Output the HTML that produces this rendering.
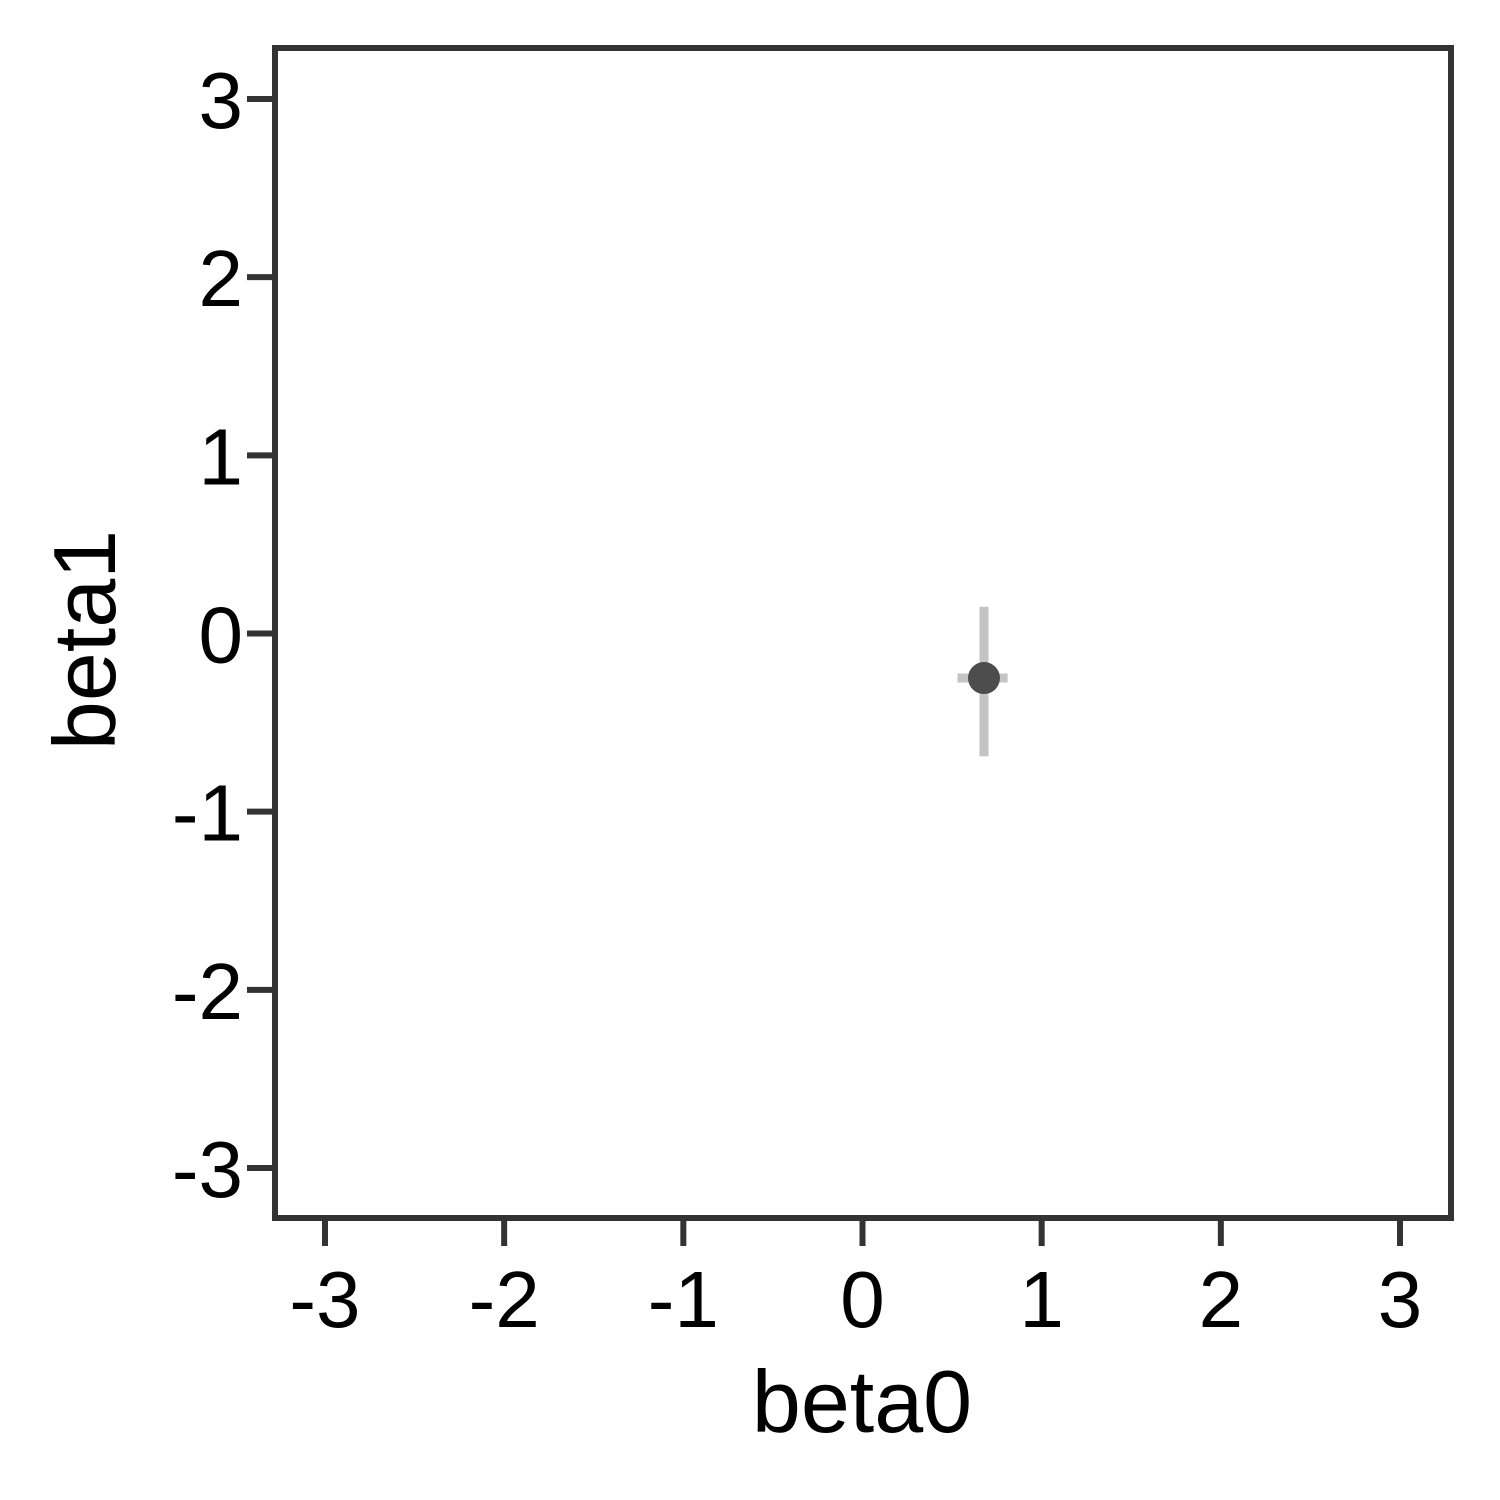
<!DOCTYPE html>
<html><head><meta charset="utf-8"><style>
html,body{margin:0;padding:0;background:#fff;}
svg{display:block;font-family:"Liberation Sans",sans-serif;}
</style></head><body>
<svg id="chart" width="1500" height="1500" viewBox="0 0 1500 1500">
<g id="ticks"></g>
<g id="marks"></g>
<rect x="275" y="48" width="1176" height="1170" fill="none" stroke="#333" stroke-width="6"/>
<text x="862" y="1432" font-size="88" text-anchor="middle">beta0</text>
<text transform="translate(115,640) rotate(-90)" font-size="88" text-anchor="middle">beta1</text>
</svg>
<script>
const xTicks=[-3,-2,-1,0,1,2,3];
const yTicks=[-3,-2,-1,0,1,2,3];
const pointX=[0.678];
const pointY=[-0.25];
const xLow=[0.53], xHigh=[0.81];
const yLow=[-0.69], yHigh=[0.15];
const sx=v=>862.5+v*179.17;
const sy=v=>633.5-v*178.17;
const NS="http://www.w3.org/2000/svg";
function mk(tag,attrs,parent){const e=document.createElementNS(NS,tag);for(const k in attrs)e.setAttribute(k,attrs[k]);parent.appendChild(e);return e;}
const tg=document.getElementById('ticks');
xTicks.forEach(t=>{
 const l=mk('line',{x1:sx(t),x2:sx(t),y1:1220,y2:1246,stroke:'#333','stroke-width':6},tg);
 
 
 const tx=mk('text',{x:sx(t),y:1327,'font-size':80,'text-anchor':'middle',fill:'#000'},tg);
 tx.textContent=t;
 
 
});
yTicks.forEach(t=>{
 const l=mk('line',{x1:247,x2:273,y1:sy(t),y2:sy(t),stroke:'#333','stroke-width':6},tg);
 
 
 const tx=mk('text',{x:243,y:sy(t)+29,'font-size':80,'text-anchor':'end',fill:'#000'},tg);
 tx.textContent=t;
 
 
});
const mg=document.getElementById('marks');
pointX.forEach((px,i)=>{
 const v=mk('line',{x1:sx(px),x2:sx(px),y1:sy(yHigh[i]),y2:sy(yLow[i]),stroke:'#c4c4c4','stroke-width':9},mg);
 
 
 const h=mk('line',{x1:sx(xLow[i]),x2:sx(xHigh[i]),y1:sy(pointY[i]),y2:sy(pointY[i]),stroke:'#c4c4c4','stroke-width':9},mg);
 
 
 const c=mk('circle',{cx:sx(px),cy:sy(pointY[i]),r:16,fill:'#4d4d4d'},mg);
 
 
});
</script>
</body></html>
